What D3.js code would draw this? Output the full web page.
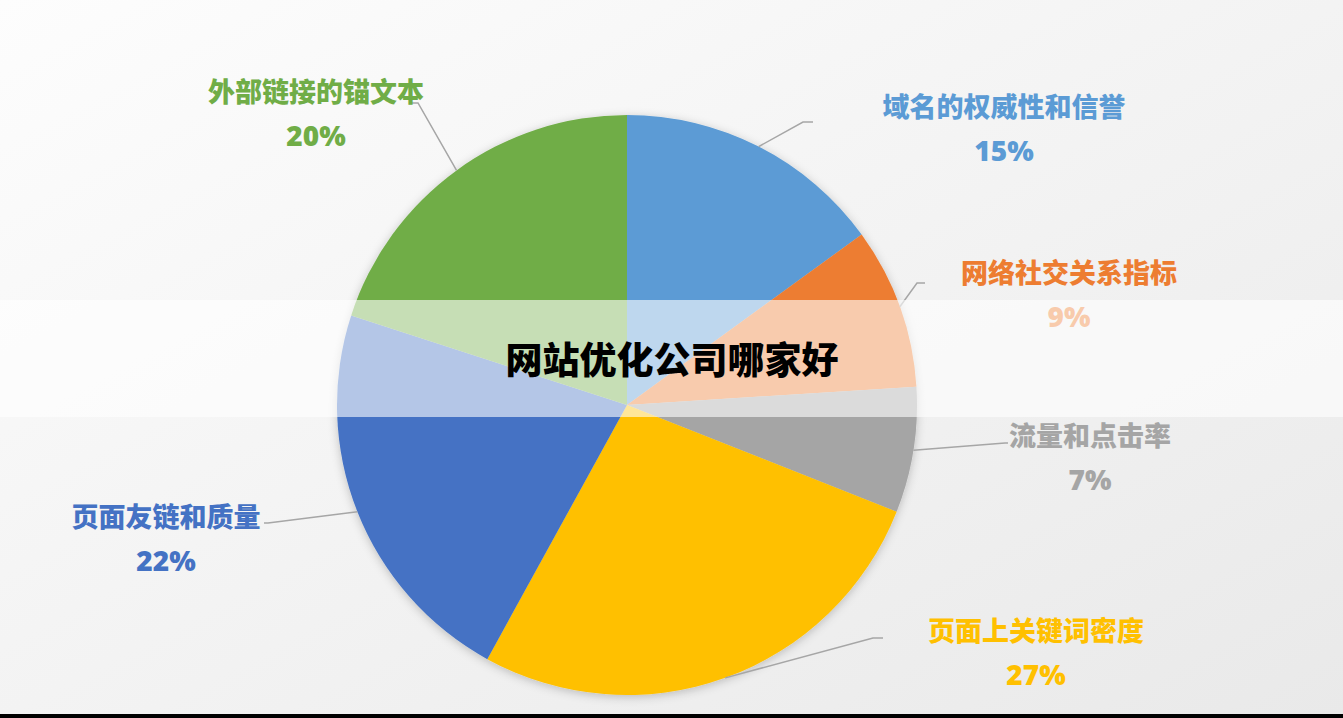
<!DOCTYPE html>
<html>
<head>
<meta charset="utf-8">
<script src="https://cdn.jsdelivr.net/npm/d3@7/dist/d3.min.js"></script>
<style>
  html, body { margin: 0; padding: 0; overflow: hidden; }
  body { width: 1343px; height: 718px; }
  text { font-family: "Noto Sans CJK SC", "Noto Sans", sans-serif; }
</style>
</head>
<body>
<div id="d3-container"></div>
<script>
// CONST and GLOBALS
const width = 1343,
  height = 718,
  radius = 290,
  center = { x: 627, y: 405 };

// data (clockwise from 12 o'clock)
const categories = ['域名的权威性和信誉', '网络社交关系指标', '流量和点击率', '页面上关键词密度', '页面友链和质量', '外部链接的锚文本'];
const values = [15, 9, 7, 27, 22, 20];
const colors = ['#5B9BD5', '#ED7D31', '#A5A5A5', '#FFC000', '#4472C4', '#70AD47'];
const title = '网站优化公司哪家好';

// label layout: text centre + leader elbow / end
const labelLayout = [
  { x: 1004, y: 105, elbow: [803, 122], end: 813 },
  { x: 1069, y: 271, elbow: [917, 283], end: 925 },
  { x: 1090, y: 434, elbow: [1005, 443], end: 1008 },
  { x: 1036, y: 629, elbow: [873, 638], end: 883 },
  { x: 166, y: 515, elbow: [268, 523], end: 264 },
  { x: 316, y: 90, elbow: [418, 103], end: 411 },
];

const data = categories.map((c, i) => ({ name: c, value: values[i], color: colors[i], lab: labelLayout[i] }));

const svg = d3
  .select('#d3-container')
  .append('svg')
  .attr('width', width)
  .attr('height', height);

const defs = svg.append('defs');

// background gradient
const bg = defs
  .append('linearGradient')
  .attr('id', 'bg')
  .attr('x1', 0).attr('y1', 0)
  .attr('x2', 1).attr('y2', 1);
bg.append('stop').attr('offset', '0%').attr('stop-color', '#fdfdfd');
bg.append('stop').attr('offset', '100%').attr('stop-color', '#e9e9e9');

const shadow = defs.append('filter').attr('id', 'shadow')
  .attr('x', '-10%').attr('y', '-10%').attr('width', '120%').attr('height', '120%');
shadow.append('feDropShadow')
  .attr('dx', 0).attr('dy', 2)
  .attr('stdDeviation', 5)
  .attr('flood-color', '#000')
  .attr('flood-opacity', 0.22);

svg.append('rect').attr('width', width).attr('height', height).attr('fill', 'url(#bg)');

// PIE
const pie = d3.pie().sort(null).value(d => d.value);
const arc = d3.arc().innerRadius(0).outerRadius(radius);
const arcs = pie(data);

const g = svg.append('g').attr('transform', `translate(${center.x},${center.y})`);

g.append('g')
  .attr('filter', 'url(#shadow)')
  .selectAll('path')
  .data(arcs)
  .join('path')
  .attr('d', arc)
  .attr('fill', d => d.data.color);

// leader lines
svg
  .selectAll('.leader')
  .data(arcs)
  .join('polyline')
  .attr('class', 'leader')
  .attr('fill', 'none')
  .attr('stroke', '#a6a6a6')
  .attr('stroke-width', 1.5)
  .attr('points', d => {
    const a = (d.startAngle + d.endAngle) / 2;
    const sx = center.x + radius * Math.sin(a);
    const sy = center.y - radius * Math.cos(a);
    const e = d.data.lab.elbow;
    return [[sx, sy], e, [d.data.lab.end, e[1]]].map(p => p.join(',')).join(' ');
  });

// labels
const labels = svg
  .selectAll('.label')
  .data(arcs)
  .join('g')
  .attr('class', 'label')
  .attr('fill', d => d.data.color)
  .attr('text-anchor', 'middle')
  .attr('font-weight', 900)
  .attr('font-size', 27);

labels
  .append('text')
  .attr('x', d => d.data.lab.x)
  .attr('y', d => d.data.lab.y)
  .attr('dominant-baseline', 'central')
  .text(d => d.data.name);

labels
  .append('text')
  .attr('x', d => d.data.lab.x)
  .attr('y', d => d.data.lab.y + 45)
  .attr('dominant-baseline', 'central')
  .attr('font-size', 28)
  .attr('font-weight', 800)
  .style('font-family', '"Open Sans", "Noto Sans", sans-serif')
  .text(d => d.data.value + '%');

// title band
svg.append('rect')
  .attr('x', 0)
  .attr('y', 300)
  .attr('width', width)
  .attr('height', 117)
  .attr('fill', '#fff')
  .attr('opacity', 0.6);

svg.append('text')
  .attr('x', 672)
  .attr('y', 358)
  .attr('text-anchor', 'middle')
  .attr('dominant-baseline', 'central')
  .attr('font-size', 37)
  .attr('font-weight', 900)
  .attr('fill', '#000')
  .text(title);

// bottom strip
svg.append('rect').attr('x', 0).attr('y', 714).attr('width', width).attr('height', 4).attr('fill', '#000');
</script>
</body>
</html>
